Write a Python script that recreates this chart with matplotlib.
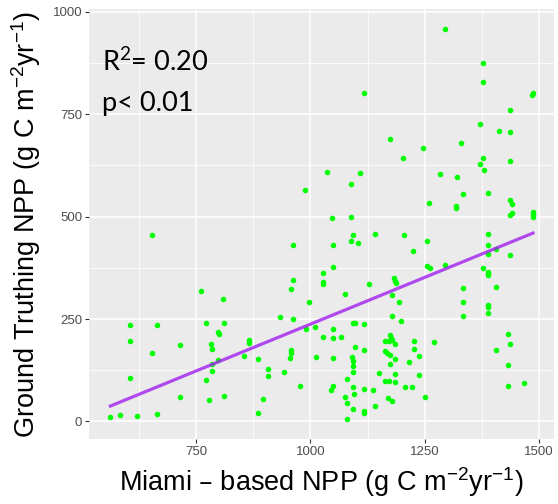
import numpy as np
import matplotlib
matplotlib.use("Agg")
import matplotlib.pyplot as plt

# Miami-based NPP (x) vs ground truthing NPP (y)
miami_npp = [
    653, 760, 809, 604, 663, 772, 811, 798, 799, 604, 714, 653, 783, 785, 866, 866,
    855, 784, 798, 785, 604, 772, 714, 778, 811, 562, 583, 620, 663,
    962, 1049, 1094, 1088, 1104, 1141, 1205, 1050, 1027, 1027, 1027, 962, 958, 1128,
    1182, 1184, 1187, 1076, 996, 1179, 1193, 933, 962, 1179, 1198, 1094, 1097, 1118,
    991, 1010, 1049, 1027, 1050, 1067, 1174, 1176, 1163, 1171, 1178, 1184,
    1097, 1118, 957, 957, 956, 884, 1012, 1050, 1163, 1168, 1174, 1184, 1175,
    1091, 1094, 1094, 1094, 908, 908, 941, 1151, 1184, 1081, 1163, 1171, 1184,
    1206, 1222, 978, 1049, 1045, 1094, 1095, 1118, 1136, 1169, 1179, 1076, 1081,
    1094, 1117, 1118, 1141, 1080, 895, 885,
    1256, 1225, 1388, 1388, 1388, 1407, 1437, 1256, 1261, 1294, 1378, 1388, 1389,
    1389, 1334, 1407, 1334, 1334, 1388, 1388, 1388, 1433, 1437, 1407, 1433, 1433,
    1467, 1227, 1227, 1271, 1237, 1216, 1237, 1251,
    1117, 1174, 1202, 1037, 1109, 1088, 989, 1048, 1088,
    1294, 1378, 1378, 1486, 1485, 1437, 1372, 1412, 1437, 1329, 1246, 1378, 1372,
    1379, 1437, 1284, 1320, 1334, 1388, 1260, 1319, 1319, 1437, 1442, 1436, 1442,
    1486, 1487, 1487,
]
ground_npp = [
    454, 319, 300, 236, 235, 241, 240, 219, 213, 196, 186, 167, 190, 177, 200, 192,
    159, 141, 149, 124, 107, 101, 60, 52, 63, 12, 17, 14, 19,
    430, 430, 456, 441, 435, 458, 456, 378, 363, 341, 336, 346, 324, 336,
    350, 344, 338, 310, 292, 308, 291, 255, 250, 257, 245, 241, 241, 237,
    226, 231, 226, 207, 204, 207, 212, 204, 196, 196, 200, 190,
    183, 175, 174, 168, 154, 153, 158, 155, 173, 168, 163, 153, 140,
    158, 147, 135, 120, 127, 110, 122, 119, 117, 104, 99, 100, 96,
    85, 85, 87, 87, 76, 85, 68, 80, 77, 58, 51, 61, 45,
    31, 25, 20, 37, 5, 55, 20,
    441, 415, 457, 431, 408, 422, 407, 379, 375, 383, 375, 364, 361,
    357, 327, 329, 292, 258, 285, 280, 266, 214, 189, 175, 139, 86,
    93, 196, 177, 193, 159, 144, 113, 59,
    802, 689, 642, 609, 606, 579, 565, 497, 498,
    959, 875, 829, 802, 796, 760, 726, 710, 707, 680, 668, 644, 628,
    615, 637, 603, 596, 556, 557, 534, 526, 521, 540, 531, 503, 508,
    511, 505, 499,
]

x_ticks = [750, 1000, 1250, 1500]
y_ticks = [0, 250, 500, 750, 1000]
r2_text = "R$^2$= 0.20"
p_text = "p< 0.01"

plt.rcParams["font.family"] = ["Liberation Sans", "DejaVu Sans"]
plt.rcParams["mathtext.default"] = "regular"

x = np.array(miami_npp, dtype=float)
y = np.array(ground_npp, dtype=float)

fig = plt.figure(figsize=(5.58, 5.04), dpi=100)
ax = fig.add_axes([0.160, 0.129, 0.833, 0.853])
ax.set_facecolor("#EBEBEB")
for s in ax.spines.values():
    s.set_visible(False)

# ggplot-like grid
ax.set_xticks(x_ticks)
ax.set_yticks(y_ticks)
ax.set_xticks([625, 875, 1125, 1375], minor=True)
ax.set_yticks([125, 375, 625, 875], minor=True)
ax.grid(True, which="major", color="white", linewidth=1.1)
ax.grid(True, which="minor", color="white", linewidth=0.55)
ax.set_axisbelow(True)
ax.tick_params(which="minor", length=0)
ax.tick_params(which="major", length=3, width=0.8, color="#333333",
               labelcolor="#4D4D4D", labelsize=9.5, pad=2)

ax.scatter(x, y, s=16, color="#00FF00", linewidths=0, zorder=3)

# linear fit over the data range
slope, intercept = np.polyfit(x, y, 1)
xf = np.array([x.min(), x.max()])
ax.plot(xf, intercept + slope * xf, color="#A020F0", linewidth=2.3, alpha=0.8, zorder=4)

# 5% expansion like ggplot
xr = x.max() - x.min()
yr = y.max() - y.min()
ax.set_xlim(x.min() - 0.05 * xr, x.max() + 0.05 * xr)
ax.set_ylim(y.min() - 0.05 * yr, y.max() + 0.05 * yr)

ax.set_xlabel("Miami \u2013 based NPP (g C m$^{-2}$yr$^{-1}$)", fontsize=19.5, labelpad=5)
ax.set_ylabel("Ground Truthing NPP (g C m$^{-2}$yr$^{-1}$)", fontsize=19.5, labelpad=7)

ax.text(0.028, 0.855, r2_text, transform=ax.transAxes, fontsize=19.5,
        family=["Lato", "DejaVu Sans"], va="baseline", ha="left")
ax.text(0.028, 0.764, p_text, transform=ax.transAxes, fontsize=19.5,
        family=["Lato", "DejaVu Sans"], va="baseline", ha="left")

fig.savefig("out.png", dpi=100)
